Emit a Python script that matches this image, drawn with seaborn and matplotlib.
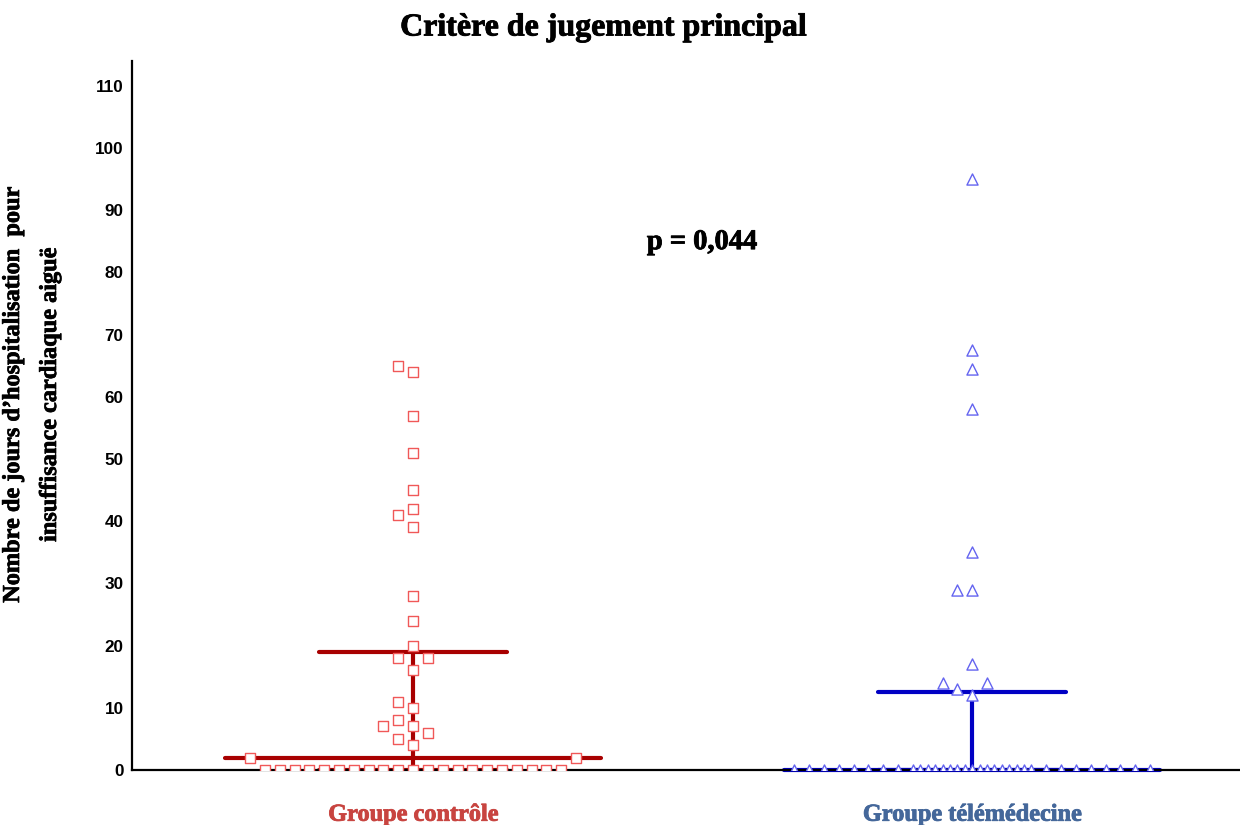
import numpy as np
import pandas as pd
import matplotlib
matplotlib.use("Agg")
import matplotlib.pyplot as plt
import matplotlib.patheffects as pe
import seaborn as sns

# ---------------- data ----------------
groups = ["Groupe contrôle", "Groupe télémédecine"]
controle = [65, 64, 57, 51, 45, 42, 41, 39, 28, 24, 20, 18, 18, 16, 11, 10, 8, 7, 7, 6, 5, 4,
            2, 2] + [0] * 21
telemedecine = [95, 67.5, 64.5, 58, 35, 29, 29, 17, 14, 14, 13, 12] + [0] * 33
y_ticks = list(range(0, 111, 10))
title = "Critère de jugement principal"
ylabel = "Nombre de jours d’hospitalisation  pour\ninsuffisance cardiaque aiguë"
p_text = "p = 0,044"

# ---------------- styles ----------------
line_colors = ["#a80000", "#0000c4"]
edge_colors = ["#f05858", "#6464f0"]
label_colors = ["#c84440", "#44679a"]
markers = ["s", "^"]
sizes = [50, 64]

sns.set_theme(style="white")
plt.rcParams["font.family"] = ["Liberation Serif", "DejaVu Serif"]
plt.rcParams["text.color"] = "black"
plt.rcParams["axes.labelcolor"] = "black"


def heavy(color, w=0.6):
    return [pe.withStroke(linewidth=w, foreground=color)]


def spread(values, slot=0.0265, max_slot=12, thresh=2.2):
    """Prism-like scatter: spread points of similar value horizontally."""
    values = np.asarray(values, dtype=float)
    order = np.argsort(values, kind="stable")
    cands = [0] + [s for k in range(1, max_slot + 1) for s in (-k, k)]
    cands += [s for k in range(max_slot) for s in (-(k + 0.5), k + 0.5)]
    last = {}
    offs = np.zeros(len(values))
    for i in order:
        v = values[i]
        for c in cands:
            if c not in last or abs(v - last[c]) >= thresh:
                last[c] = v
                offs[i] = c * slot
                break
    return offs


frames = []
for gi, vals in enumerate([controle, telemedecine]):
    frames.append(pd.DataFrame({"x": gi + spread(vals), "y": vals, "g": groups[gi]}))
df = pd.concat(frames, ignore_index=True)

fig = plt.figure(figsize=(12.4, 8.25), dpi=100)
ax = fig.add_axes([132 / 1240, 1 - 770 / 825, 1 - 132 / 1240, (770 - 61) / 825])

# median + interquartile range
for gi, vals in enumerate([controle, telemedecine]):
    q1, med, q3 = np.percentile(vals, [25, 50, 75], method="weibull")
    c = line_colors[gi]
    ax.hlines(med, gi - 0.336, gi + 0.336, color=c, lw=3, zorder=2,
              clip_on=(med != 0), capstyle="round")
    ax.vlines(gi, q1, q3, color=c, lw=3, zorder=2)
    ax.hlines([q1, q3], gi - 0.168, gi + 0.168, color=c, lw=3, zorder=2, capstyle="round")

for gi, g in enumerate(groups):
    sns.scatterplot(data=df[df["g"] == g], x="x", y="y", marker=markers[gi], s=sizes[gi],
                    color="white", edgecolor=edge_colors[gi], linewidth=1.0,
                    zorder=4, ax=ax, legend=False)

ax.set_xlim(-0.5027, 1.479)
ax.set_ylim(0, 114)
ax.set_yticks(y_ticks)
ax.set_yticklabels([str(t) for t in y_ticks], fontfamily="Liberation Sans",
                   fontweight="bold", fontsize=12.3, color="black")
ax.set_xticks([0, 1])
ax.set_xticklabels(groups, fontweight="bold", fontsize=17.5)
ax.tick_params(axis="y", direction="out", length=4, width=1.5, pad=2, colors="black")
ax.tick_params(axis="x", direction="out", length=6, width=1.8, pad=19, colors="black")
for lab, c in zip(ax.get_xticklabels(), label_colors):
    lab.set_color(c)
    lab.set_path_effects(heavy(c))
ax.set_xlabel("")
ax.set_ylabel("")
for s in ["top", "right"]:
    ax.spines[s].set_visible(False)
for s in ["left", "bottom"]:
    ax.spines[s].set_linewidth(1.6)
    ax.spines[s].set_color("black")
    ax.spines[s].set_zorder(3)
ax.grid(False)

ax.text(0.517, 84.8, p_text, ha="center", va="center", fontsize=20.5, fontweight="bold",
        color="black", path_effects=heavy("black"))
fig.text(604 / 1240, 1 - 28 / 825, title, ha="center", va="center",
         fontsize=23, fontweight="bold", color="black", path_effects=heavy("black"))
fig.text(32 / 1240, 1 - 395 / 825, ylabel, ha="center", va="center", rotation=90,
         fontsize=17.5, fontweight="bold", multialignment="center", linespacing=2.0,
         color="black", path_effects=heavy("black", 0.5))

fig.savefig("out.png", dpi=100, facecolor="white")
